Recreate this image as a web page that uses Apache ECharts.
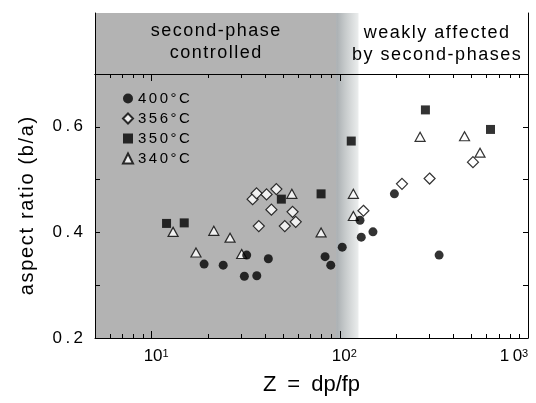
<!DOCTYPE html>
<html>
<head>
<meta charset="utf-8">
<script src="https://cdn.jsdelivr.net/npm/echarts@6/dist/echarts.min.js"></script>
<style>
    html, body { margin: 0; padding: 0; background: #fff; }
    #chart { width: 536px; height: 403px; }
</style>
</head>
<body>
<div id="chart"></div>
<script>
    // 数据
    var temps = ['400°C', '356°C', '350°C', '340°C'];

    var z400 = [19.0, 24.0, 31.1, 32.0, 36.2, 41.7, 83.5, 89.5, 103, 128, 130, 150, 195, 337];
    var r400 = [0.340, 0.338, 0.317, 0.357, 0.318, 0.350, 0.354, 0.338, 0.372, 0.423, 0.391, 0.401, 0.473, 0.357];

    var z356 = [34.4, 36.1, 40.8, 46.0, 43.3, 37.1, 51.0, 56.1, 58.3, 133.5, 214, 300, 510];
    var r356 = [0.463, 0.474, 0.472, 0.482, 0.443, 0.412, 0.412, 0.439, 0.420, 0.441, 0.492, 0.502, 0.533];

    var z350 = [12.0, 14.9, 48.9, 79.5, 115, 285, 632];
    var r350 = [0.417, 0.418, 0.463, 0.473, 0.573, 0.632, 0.595];

    var z340 = [13.0, 17.2, 21.4, 26.1, 30.1, 55.6, 79.5, 118, 118, 267, 460, 556];
    var r340 = [0.401, 0.362, 0.403, 0.390, 0.359, 0.473, 0.400, 0.473, 0.431, 0.581, 0.582, 0.551];

    var zRange = [5, 1000];
    var rRange = [0.2, 0.7];
    var zMajor = [10, 100, 1000];
    var zMinor = [6, 7, 8, 9, 20, 30, 40, 50, 60, 70, 80, 90, 200, 300, 400, 500, 600, 700, 800, 900];
    var rLabels = [0.2, 0.4, 0.6];
    var zoneEdges = [95.5, 126];   // gray zone ends, fades out to white
    var zoneText = [['second-phase', 'controlled'], ['weakly affected', 'by second-phases']];

    var FONT = '"Liberation Sans", Arial, Helvetica, sans-serif';

    // spread letters a bit, like the old figure lettering
    function sp(s, gap) {
        return s.split('').join(gap);
    }

    function pair(xs, ys) {
        return xs.map(function (x, i) { return [x, ys[i]]; });
    }

    var fade = {
        type: 'linear', x: 0, y: 0, x2: 1, y2: 0,
        colorStops: [
            { offset: 0, color: '#a9aeb1' },
            { offset: 0.4, color: '#c6cacb' },
            { offset: 1, color: '#eceeee' }
        ]
    };

    function zoneAreas(withText) {
        var lbl = function (lines, off) {
            if (!withText) return { show: false };
            return {
                show: true,
                position: 'inside',
                formatter: lines.map(function (l) { return sp(l, '\u200A'); }).join('\n'),
                fontFamily: FONT,
                fontSize: 18,
                lineHeight: 22,
                color: '#000',
                offset: off
            };
        };
        return [
            [{ xAxis: zRange[0], itemStyle: { color: '#b3b3b3' }, label: lbl(zoneText[0], [0, -1]) }, { xAxis: zoneEdges[0] }],
            [{ xAxis: zoneEdges[0], itemStyle: { color: fade } }, { xAxis: zoneEdges[1] }],
            [{ xAxis: zoneEdges[1], itemStyle: { color: '#fff' }, label: lbl(zoneText[1], [-7, 1]) }, { xAxis: zRange[1] }]
        ];
    }

    var black = { color: '#000', width: 1 };

    function logAxis(grid, pos, ticks, len, extra) {
        var ax = {
            type: 'log', logBase: 10, gridIndex: grid, position: pos,
            min: zRange[0], max: zRange[1], z: 5,
            axisLine: { show: true, lineStyle: black },
            axisTick: { show: ticks !== null, inside: true, length: len, customValues: ticks || [], lineStyle: black },
            axisLabel: { show: false },
            splitLine: { show: false }
        };
        return Object.assign(ax, extra || {});
    }

    var xAxes = [
        logAxis(0, 'bottom', zMajor, 7, {
            name: 'Z\u2002=\u2002dp/fp',
            nameLocation: 'middle',
            nameGap: 36,
            nameTextStyle: { fontFamily: FONT, fontSize: 22, color: '#000' },
            axisLabel: {
                show: true,
                customValues: zMajor,
                margin: 10,
                color: '#000',
                fontFamily: FONT,
                fontSize: 17,
                formatter: function (v) {
                    var e = Math.round(Math.log10(v));
                    if (e === 3) return '{b|1\u20090}{t|3}';
                    return '{a|10}{s|' + e + '}';
                },
                rich: {
                    a: { fontFamily: FONT, fontSize: 17, color: '#000', padding: [0, 0, 0, 9] },
                    b: { fontFamily: FONT, fontSize: 17, color: '#000' },
                    s: { fontFamily: FONT, fontSize: 11, color: '#000', verticalAlign: 'top' },
                    t: { fontFamily: FONT, fontSize: 11, color: '#000', verticalAlign: 'top', padding: [0, 28, 0, 0] }
                }
            }
        }),
        logAxis(0, 'bottom', zMinor, 4, { axisLine: { show: false } }),
        logAxis(0, 'top', zMajor, 7),
        logAxis(0, 'top', zMinor, 4, { axisLine: { show: false } }),
        logAxis(1, 'top', null, 0)
    ];

    function valAxis(grid, pos, extra) {
        var ax = {
            type: 'value', gridIndex: grid, position: pos, z: 5,
            min: rRange[0], max: rRange[1], interval: 0.1,
            axisLine: { show: true, lineStyle: black },
            axisTick: { show: true, inside: true, length: 5, lineStyle: black },
            axisLabel: { show: false },
            splitLine: { show: false }
        };
        return Object.assign(ax, extra || {});
    }

    var yAxes = [
        valAxis(0, 'left', {
            name: sp('aspect ratio (b/a)', '\u200A'),
            nameLocation: 'middle',
            nameGap: 58,
            nameTextStyle: { fontFamily: FONT, fontSize: 20, color: '#000' },
            axisLabel: {
                show: true,
                customValues: rLabels,
                margin: 12,
                color: '#000',
                fontFamily: FONT,
                fontSize: 17,
                formatter: function (v) { return sp(v.toFixed(1), '\u2009'); }
            }
        }),
        valAxis(0, 'right'),
        { type: 'value', gridIndex: 1, position: 'left', min: 0, max: 1, z: 5,
          axisLine: { show: true, lineStyle: black }, axisTick: { show: false },
          axisLabel: { show: false }, splitLine: { show: false } },
        { type: 'value', gridIndex: 1, position: 'right', min: 0, max: 1, z: 5,
          axisLine: { show: true, lineStyle: black }, axisTick: { show: false },
          axisLabel: { show: false }, splitLine: { show: false } }
    ];

    var openStyle = { color: '#fff', borderColor: '#000', borderWidth: 1.2 };
    var fillStyle = { color: '#000', borderColor: '#000', borderWidth: 0 };

    function pts(name, symbol, size, style, data) {
        return {
            name: name, type: 'scatter', xAxisIndex: 0, yAxisIndex: 0,
            symbol: symbol, symbolSize: size, itemStyle: style,
            data: data, z: 3
        };
    }

    var option = {
        animation: false,
        backgroundColor: '#fff',
        grid: [
            { left: 95, right: 8, top: 74, bottom: 65, outerBoundsMode: 'none' },
            { left: 95, right: 8, top: 13, height: 61, outerBoundsMode: 'none' }
        ],
        xAxis: xAxes,
        yAxis: yAxes,
        legend: {
            data: temps,
            orient: 'vertical',
            left: 117,
            top: 86,
            itemWidth: 10,
            itemHeight: 10,
            itemGap: 5,
            formatter: function (n) { return sp(n, '\u200A\u200A'); },
            textStyle: { fontFamily: FONT, fontSize: 15, color: '#000' }
        },
        series: [
            { type: 'scatter', xAxisIndex: 0, yAxisIndex: 0, data: [], silent: true,
              markArea: { silent: true, data: zoneAreas(false) } },
            { type: 'scatter', xAxisIndex: 4, yAxisIndex: 2, data: [], silent: true,
              markArea: { silent: true, data: zoneAreas(true) } },
            pts(temps[3], 'triangle', [10, 9], openStyle, pair(z340, r340)),
            pts(temps[1], 'diamond', 11, openStyle, pair(z356, r356)),
            pts(temps[2], 'rect', 9, fillStyle, pair(z350, r350)),
            pts(temps[0], 'circle', 9, fillStyle, pair(z400, r400))
        ]
    };

    var myChart = echarts.init(document.getElementById('chart'));
    myChart.setOption(option);
</script>
</body>
</html>
